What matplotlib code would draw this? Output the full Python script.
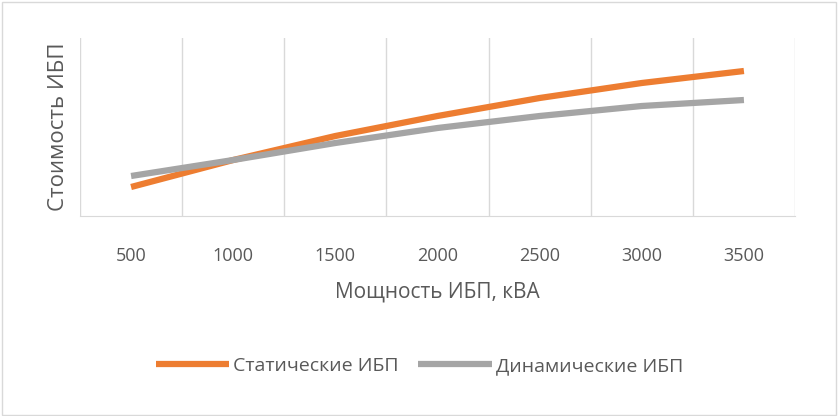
import matplotlib.pyplot as plt
import numpy as np
from matplotlib.patches import Rectangle

power = [500, 1000, 1500, 2000, 2500, 3000, 3500]
static_cost = [29, 56, 80, 100, 118, 133, 145]
dynamic_cost = [40, 56, 73, 88, 100, 110, 116]

plt.rcParams['font.family'] = ['Open Sans', 'DejaVu Sans']
fig = plt.figure(figsize=(8.39, 4.16), dpi=100)
ax = fig.add_axes([80/839, 1-216/416, 715/839, 178/416])

x = np.arange(len(power))
ax.plot(x, static_cost, color='#ED7D31', lw=4.5, solid_capstyle='butt', label='Статические ИБП')
ax.plot(x, dynamic_cost, color='#A5A5A5', lw=4.5, solid_capstyle='butt', label='Динамические ИБП')

ax.set_xlim(-0.5, len(power) - 0.5)
ax.set_ylim(0, 178)
for b in np.arange(-0.5, len(power), 1.0):
    ax.axvline(b, color='#D9D9D9', lw=1, zorder=0)
ax.set_xticks(x)
ax.set_xticklabels([str(p) for p in power], fontsize=13, color='#595959')
ax.tick_params(axis='x', length=0, pad=22)
ax.set_yticks([])
for s in ['top', 'right', 'left']:
    ax.spines[s].set_visible(False)
ax.spines['bottom'].set_color('#D9D9D9')

ax.set_xlabel('Мощность ИБП, кВА', fontsize=15, color='#595959', labelpad=12)
ax.set_ylabel('Стоимость ИБП', fontsize=16, color='#595959', labelpad=8)

fig.legend(loc='center', bbox_to_anchor=(0.5, 1-366/416), ncol=2, frameon=False,
           fontsize=14, labelcolor='#595959', handlelength=3.8, handletextpad=0.2,
           columnspacing=1.0)
fig.patches.append(Rectangle((0.002, 0.003), 0.995, 0.993, transform=fig.transFigure,
                             fill=False, edgecolor='#D9D9D9', lw=1))
fig.savefig('out.png', dpi=100)
